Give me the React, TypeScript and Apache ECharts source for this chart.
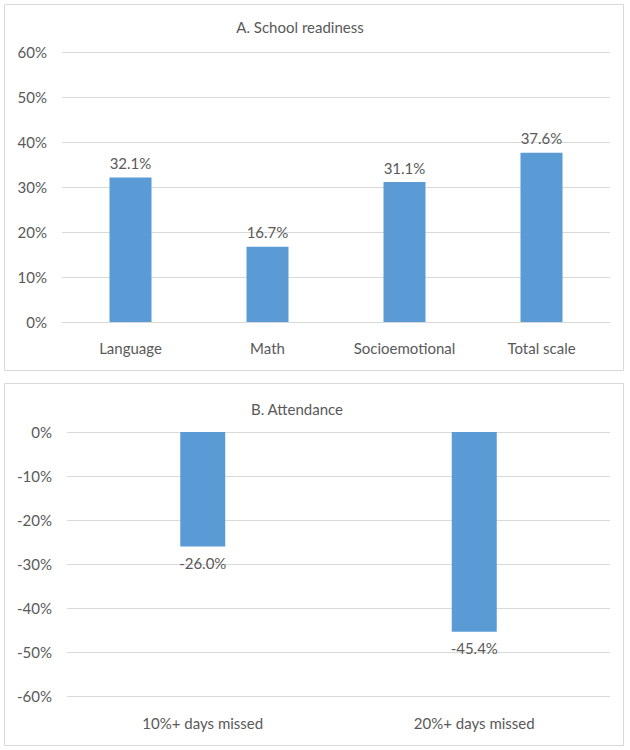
import React, { useEffect, useRef } from "react";
import * as echarts from "echarts";

const readinessCategories = ["Language", "Math", "Socioemotional", "Total scale"];
const readinessValues = [32.1, 16.7, 31.1, 37.6];
const attendanceCategories = ["10%+ days missed", "20%+ days missed"];
const attendanceValues = [-26.0, -45.4];
const titleA = "A. School readiness";
const titleB = "B. Attendance";

const FONT = "Lato";
const FS = 15;
const TEXT = "#595959";
const GRID = "#D9D9D9";
const BAR = "#5B9BD5";

export default function App() {
  const ref = useRef<HTMLDivElement>(null);
  useEffect(() => {
    if (!ref.current) return;
    const chart = echarts.init(ref.current, null, { renderer: "svg" });
    const pct = (v: number) => `${v}%`;
    chart.setOption({
      animation: false,
      backgroundColor: "#fff",
      textStyle: { fontFamily: FONT },
      graphic: [
        {
          type: "rect",
          shape: { x: 4.5, y: 4.5, width: 619, height: 366 },
          style: { fill: "none", stroke: GRID, lineWidth: 1 },
          z: -1,
        },
        {
          type: "rect",
          shape: { x: 4.5, y: 383.5, width: 619, height: 362 },
          style: { fill: "none", stroke: GRID, lineWidth: 1 },
          z: -1,
        },
        {
          type: "text",
          x: 300,
          y: 27,
          style: {
            text: titleA,
            fill: TEXT,
            font: `${FS}px ${FONT}`,
            textAlign: "center",
            textVerticalAlign: "middle",
          },
        },
        {
          type: "text",
          x: 297,
          y: 409,
          style: {
            text: titleB,
            fill: TEXT,
            font: `${FS}px ${FONT}`,
            textAlign: "center",
            textVerticalAlign: "middle",
          },
        },
      ],
      grid: [
        { left: 62, right: 20, top: 52, bottom: 428, containLabel: false },
        { left: 67, right: 20, top: 432, bottom: 54, containLabel: false },
      ],
      xAxis: [
        {
          type: "category",
          gridIndex: 0,
          data: readinessCategories,
          axisLine: { show: true, lineStyle: { color: GRID } },
          axisTick: { show: false },
          axisLabel: { color: TEXT, fontSize: FS, fontFamily: FONT, margin: 18 },
        },
        {
          type: "category",
          gridIndex: 1,
          data: attendanceCategories,
          position: "bottom",
          axisLine: { show: false, onZero: false },
          axisTick: { show: false },
          axisLabel: { color: TEXT, fontSize: FS, fontFamily: FONT, margin: 19 },
        },
      ],
      yAxis: [
        {
          type: "value",
          gridIndex: 0,
          min: 0,
          max: 60,
          interval: 10,
          axisLine: { show: false },
          axisTick: { show: false },
          splitLine: { lineStyle: { color: GRID } },
          axisLabel: { color: TEXT, fontSize: FS, fontFamily: FONT, margin: 15, formatter: pct },
        },
        {
          type: "value",
          gridIndex: 1,
          min: -60,
          max: 0,
          interval: 10,
          axisLine: { show: false },
          axisTick: { show: false },
          splitLine: { lineStyle: { color: GRID } },
          axisLabel: { color: TEXT, fontSize: FS, fontFamily: FONT, margin: 15, formatter: pct },
        },
      ],
      series: [
        {
          type: "bar",
          xAxisIndex: 0,
          yAxisIndex: 0,
          data: readinessValues,
          barWidth: 42,
          itemStyle: { color: BAR },
          label: {
            show: true,
            position: "top",
            distance: 7,
            color: TEXT,
            fontSize: FS,
            fontFamily: FONT,
            formatter: (p: any) => `${Number(p.value).toFixed(1)}%`,
          },
        },
        {
          type: "bar",
          xAxisIndex: 1,
          yAxisIndex: 1,
          data: attendanceValues,
          barWidth: 45,
          itemStyle: { color: BAR },
          label: {
            show: true,
            position: "bottom",
            distance: 9,
            color: TEXT,
            fontSize: FS,
            fontFamily: FONT,
            formatter: (p: any) => `${Number(p.value).toFixed(1)}%`,
          },
        },
      ],
    });
    return () => chart.dispose();
  }, []);
  return (
    <div
      ref={ref}
      style={{ position: "absolute", left: 0, top: 0, width: 630, height: 750 }}
    />
  );
}
